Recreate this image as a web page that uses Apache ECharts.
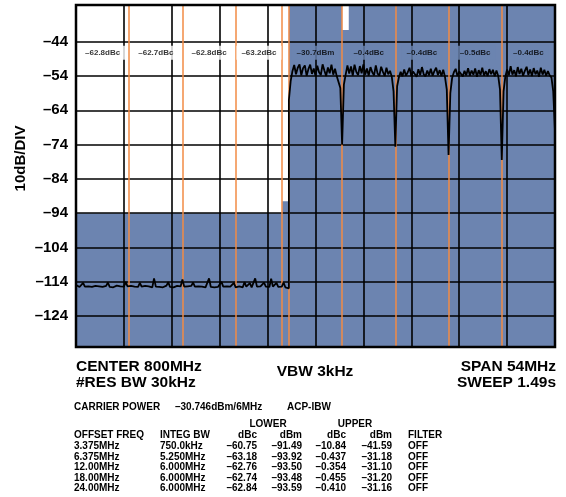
<!DOCTYPE html>
<html>
<head>
<meta charset="utf-8">
<title>ACP spectrum</title>
<script src="https://cdn.jsdelivr.net/npm/echarts@6.0.0/dist/echarts.min.js"></script>
<style>
  html, body { margin: 0; padding: 0; background: #fff; }
  #chart { width: 566px; height: 497px; }
</style>
</head>
<body>
<div id="chart"></div>
<script>
// x is offset from the 800MHz centre, in MHz (span 54MHz, 10 div)
const spanStart = -27;
const spanEnd = 27;
const divWidth = 5.4;
const levelTicks = [-124, -114, -104, -94, -84, -74, -64, -54, -44];

// noise floor, -27 .. -3MHz every 0.2MHz
const floorStart = -27;
const floorStep = 0.2;
const floorTrace = [
  -114.9, -115.3, -115.5, -115.2, -114.3, -115.4, -115.6, -115.3, -115.1, -115.5,
  -115.4, -115.2, -115.6, -115.3, -114.9, -115.5, -115.4, -115.2, -114.2, -115.5,
  -115.3, -115.6, -115.4, -115.1, -115.5, -115.3, -115.6, -115.4, -114.0, -115.3,
  -115.5, -115.2, -115.6, -115.4, -115.3, -115.5, -114.3, -115.4, -115.6, -115.2,
  -115.5, -115.3, -115.4, -115.6, -113.0, -115.4, -115.2, -115.5, -115.3, -115.6,
  -115.4, -115.1, -114.1, -115.5, -115.3, -115.6, -115.4, -115.2, -115.5, -115.3,
  -113.3, -115.4, -115.6, -115.3, -115.5, -115.2, -114.2, -115.4, -115.6, -115.3,
  -115.5, -115.4, -115.2, -115.6, -115.3, -113.0, -115.5, -115.4, -115.6, -115.3,
  -115.5, -115.2, -114.0, -115.4, -115.6, -115.3, -115.5, -115.4, -115.2, -114.3,
  -115.6, -115.4, -115.3, -115.5, -115.6, -114.1, -115.4, -115.3, -114.4, -115.6,
  -115.5, -113.0, -115.4, -115.6, -115.3, -115.5, -114.2, -115.4, -115.6, -115.5,
  -113.1, -115.4, -115.6, -114.3, -115.5, -115.7, -115.4, -114.2, -115.6, -115.8,
  -115.9
];

// five carriers, -3 .. 27MHz every 0.2MHz
const carrierStart = -3;
const carrierStep = 0.2;
const carrierTrace = [
  -61.0, -55.5, -52.6, -50.8, -53.5, -51.6, -50.6, -53.8, -51.7, -50.9,
  -53.9, -52.0, -50.7, -53.4, -51.8, -53.9, -51.0, -52.9, -53.7, -50.6,
  -52.4, -54.0, -51.5, -53.2, -50.7, -53.6, -51.9, -54.1, -53.6, -57.5,
  -74.0,
  -56.5, -53.6, -50.9, -53.3, -51.2, -53.9, -50.7, -52.8, -53.7, -51.1,
  -53.2, -50.6, -53.6, -51.8, -53.9, -51.4, -52.9, -53.8, -50.9, -53.3,
  -53.9, -51.3, -52.8, -54.0, -51.6, -53.5, -52.5, -54.2, -58.5, -74.6,
  -57.0, -54.4, -52.8, -54.1, -52.1, -53.9, -52.9, -51.6, -54.0, -52.7,
  -52.3, -54.2, -52.0, -53.7, -51.4, -53.5, -54.1, -52.4, -53.8, -51.9,
  -53.9, -52.6, -51.6, -53.7, -52.3, -54.0, -52.2, -54.3, -58.0, -77.0,
  -59.0, -54.6, -52.9, -51.9, -54.0, -52.7, -52.2, -54.1, -52.5, -53.8,
  -51.7, -53.9, -52.4, -53.6, -51.8, -54.2, -52.3, -53.7, -51.6, -53.9,
  -52.6, -54.0, -52.0, -53.5, -52.2, -54.1, -52.4, -54.0, -58.0, -78.5,
  -58.5, -54.2, -52.1, -53.8, -51.1, -53.6, -52.3, -54.1, -51.4, -53.4,
  -51.9, -53.9, -52.5, -51.3, -53.7, -52.1, -54.0, -51.7, -53.5, -52.4,
  -54.2, -51.6, -53.6, -52.2, -53.9, -52.6, -53.8, -54.4, -58.5, -70.0
];

// shaded mask (step held until next point)
const maskFreq = [-27, -3.75, -3, 3, 3.75, 27];
const maskLevel = [-94, -90.5, -33.3, -40.6, -33.3, -33.3];

// integration band edges
const bandEdges = [-21, -15, -9, -3.75, -3, 3, 9, 15, 21];

// channel power readouts
const readoutFreq = [-24, -18, -12, -6.375, 0, 6, 12, 18, 24];
const readoutText = ['–62.8dBc', '–62.7dBc', '–62.8dBc', '–63.2dBc', '–30.7dBm', '–0.4dBc', '–0.4dBc', '–0.5dBc', '–0.4dBc'];
const readoutLevel = -47.2;

// table under the screen
const offsetFreqs = ['3.375MHz', '6.375MHz', '12.00MHz', '18.00MHz', '24.00MHz'];
const integBws = ['750.0kHz', '5.250MHz', '6.000MHz', '6.000MHz', '6.000MHz'];
const lowerDbc = ['–60.75', '–63.18', '–62.76', '–62.74', '–62.84'];
const lowerDbm = ['–91.49', '–93.92', '–93.50', '–93.48', '–93.59'];
const upperDbc = ['–10.84', '–0.437', '–0.354', '–0.455', '–0.410'];
const upperDbm = ['–41.59', '–31.18', '–31.10', '–31.20', '–31.16'];
const filters = ['OFF', 'OFF', 'OFF', 'OFF', 'OFF'];

const FONT = '"Liberation Sans", Arial, Helvetica, sans-serif';
const BLUE = '#6c84b0';
const ORANGE = '#f28b45';

let chart = echarts.init(document.getElementById('chart'));

const floorData = floorTrace.map((v, i) => [+(floorStart + i * floorStep).toFixed(2), v]);
const carrierData = carrierTrace.map((v, i) => [+(carrierStart + i * carrierStep).toFixed(2), v]);
const traceData = floorData.concat(carrierData);

function txt(text, x, y, size, align) {
  return {
    type: 'text', x: x, y: y, z: 20,
    style: {
      text: text, fill: '#000', textAlign: align || 'left', textVerticalAlign: 'middle',
      font: 'bold ' + size + 'px ' + FONT
    }
  };
}

const T = 10;
let graphics = [
  {
    type: 'text', x: 21, y: 158.5, rotation: Math.PI / 2, z: 20,
    style: {
      text: '10dB/DIV', fill: '#000', textAlign: 'center', textVerticalAlign: 'middle',
      font: 'bold 15px ' + FONT
    }
  },
  txt('CENTER 800MHz', 76, 367, 15.5),
  txt('#RES BW 30kHz', 76, 383, 15.5),
  txt('VBW 3kHz', 315, 372, 15.5, 'center'),
  txt('SPAN 54MHz', 556, 367, 15.5, 'right'),
  txt('SWEEP 1.49s', 556, 383, 15.5, 'right'),
  txt('CARRIER POWER', 74, 407.5, T),
  txt('–30.746dBm/6MHz', 175, 407.5, T),
  txt('ACP-IBW', 287, 407.5, T),
  txt('LOWER', 268, 424, T, 'center'),
  txt('UPPER', 355, 424, T, 'center'),
  txt('OFFSET FREQ', 74, 435.5, T),
  txt('INTEG BW', 160, 435.5, T),
  txt('dBc', 257, 435.5, T, 'right'),
  txt('dBm', 302, 435.5, T, 'right'),
  txt('dBc', 346, 435.5, T, 'right'),
  txt('dBm', 392, 435.5, T, 'right'),
  txt('FILTER', 408, 435.5, T)
];
const rowY = [446.5, 457, 467.5, 478, 488.5];
offsetFreqs.forEach((f, i) => {
  graphics.push(txt(f, 74, rowY[i], T));
  graphics.push(txt(integBws[i], 160, rowY[i], T));
  graphics.push(txt(lowerDbc[i], 257, rowY[i], T, 'right'));
  graphics.push(txt(lowerDbm[i], 302, rowY[i], T, 'right'));
  graphics.push(txt(upperDbc[i], 346, rowY[i], T, 'right'));
  graphics.push(txt(upperDbm[i], 392, rowY[i], T, 'right'));
  graphics.push(txt(filters[i], 408, rowY[i], T));
});

chart.setOption({
  animation: false,
  textStyle: { fontFamily: FONT },
  grid: {
    left: 76, right: 11, top: 5, height: 342,
    show: true, z: 10,
    backgroundColor: 'transparent', borderColor: '#000', borderWidth: 2.5
  },
  xAxis: {
    type: 'value', min: spanStart, max: spanEnd, interval: divWidth, z: 3,
    axisLine: { show: false }, axisTick: { show: false }, axisLabel: { show: false },
    splitLine: { show: true, lineStyle: { color: '#000', width: 1.6 } }
  },
  yAxis: {
    type: 'value', min: -133, max: -33.3, z: 3,
    axisLine: { show: false },
    axisTick: { show: false, customValues: levelTicks },
    axisLabel: {
      customValues: levelTicks, margin: 8, color: '#000', fontWeight: 'bold', fontSize: 15,
      formatter: v => String(v).replace('-', '–')
    },
    splitLine: { show: true, lineStyle: { color: '#000', width: 1.6 } }
  },
  series: [
    {
      name: 'mask', type: 'line', step: 'end', z: 1,
      data: maskFreq.map((f, i) => [f, maskLevel[i]]),
      symbol: 'none', lineStyle: { width: 0 },
      areaStyle: { color: BLUE, opacity: 1, origin: 'start' },
      markLine: {
        silent: true, symbol: 'none', z: 4, label: { show: false },
        lineStyle: { color: ORANGE, width: 1.5, type: 'solid' },
        data: bandEdges.map(f => ({ xAxis: f }))
      }
    },
    {
      name: 'trace', type: 'line', z: 5,
      data: traceData, symbol: 'none',
      lineStyle: { color: '#000', width: 1.8 }
    },
    {
      name: 'readout', type: 'scatter', z: 8,
      symbolSize: 1, itemStyle: { color: 'transparent' },
      data: readoutFreq.map((f, i) => ({
        value: [f, readoutLevel], name: readoutText[i],
        label: { backgroundColor: f < -3 ? '#fff' : BLUE }
      })),
      label: {
        show: true, position: 'inside', formatter: '{b}',
        color: '#000', fontWeight: 'bold', fontSize: 8, fontFamily: FONT,
        padding: [3, 5]
      }
    }
  ],
  graphic: graphics
});
</script>
</body>
</html>
